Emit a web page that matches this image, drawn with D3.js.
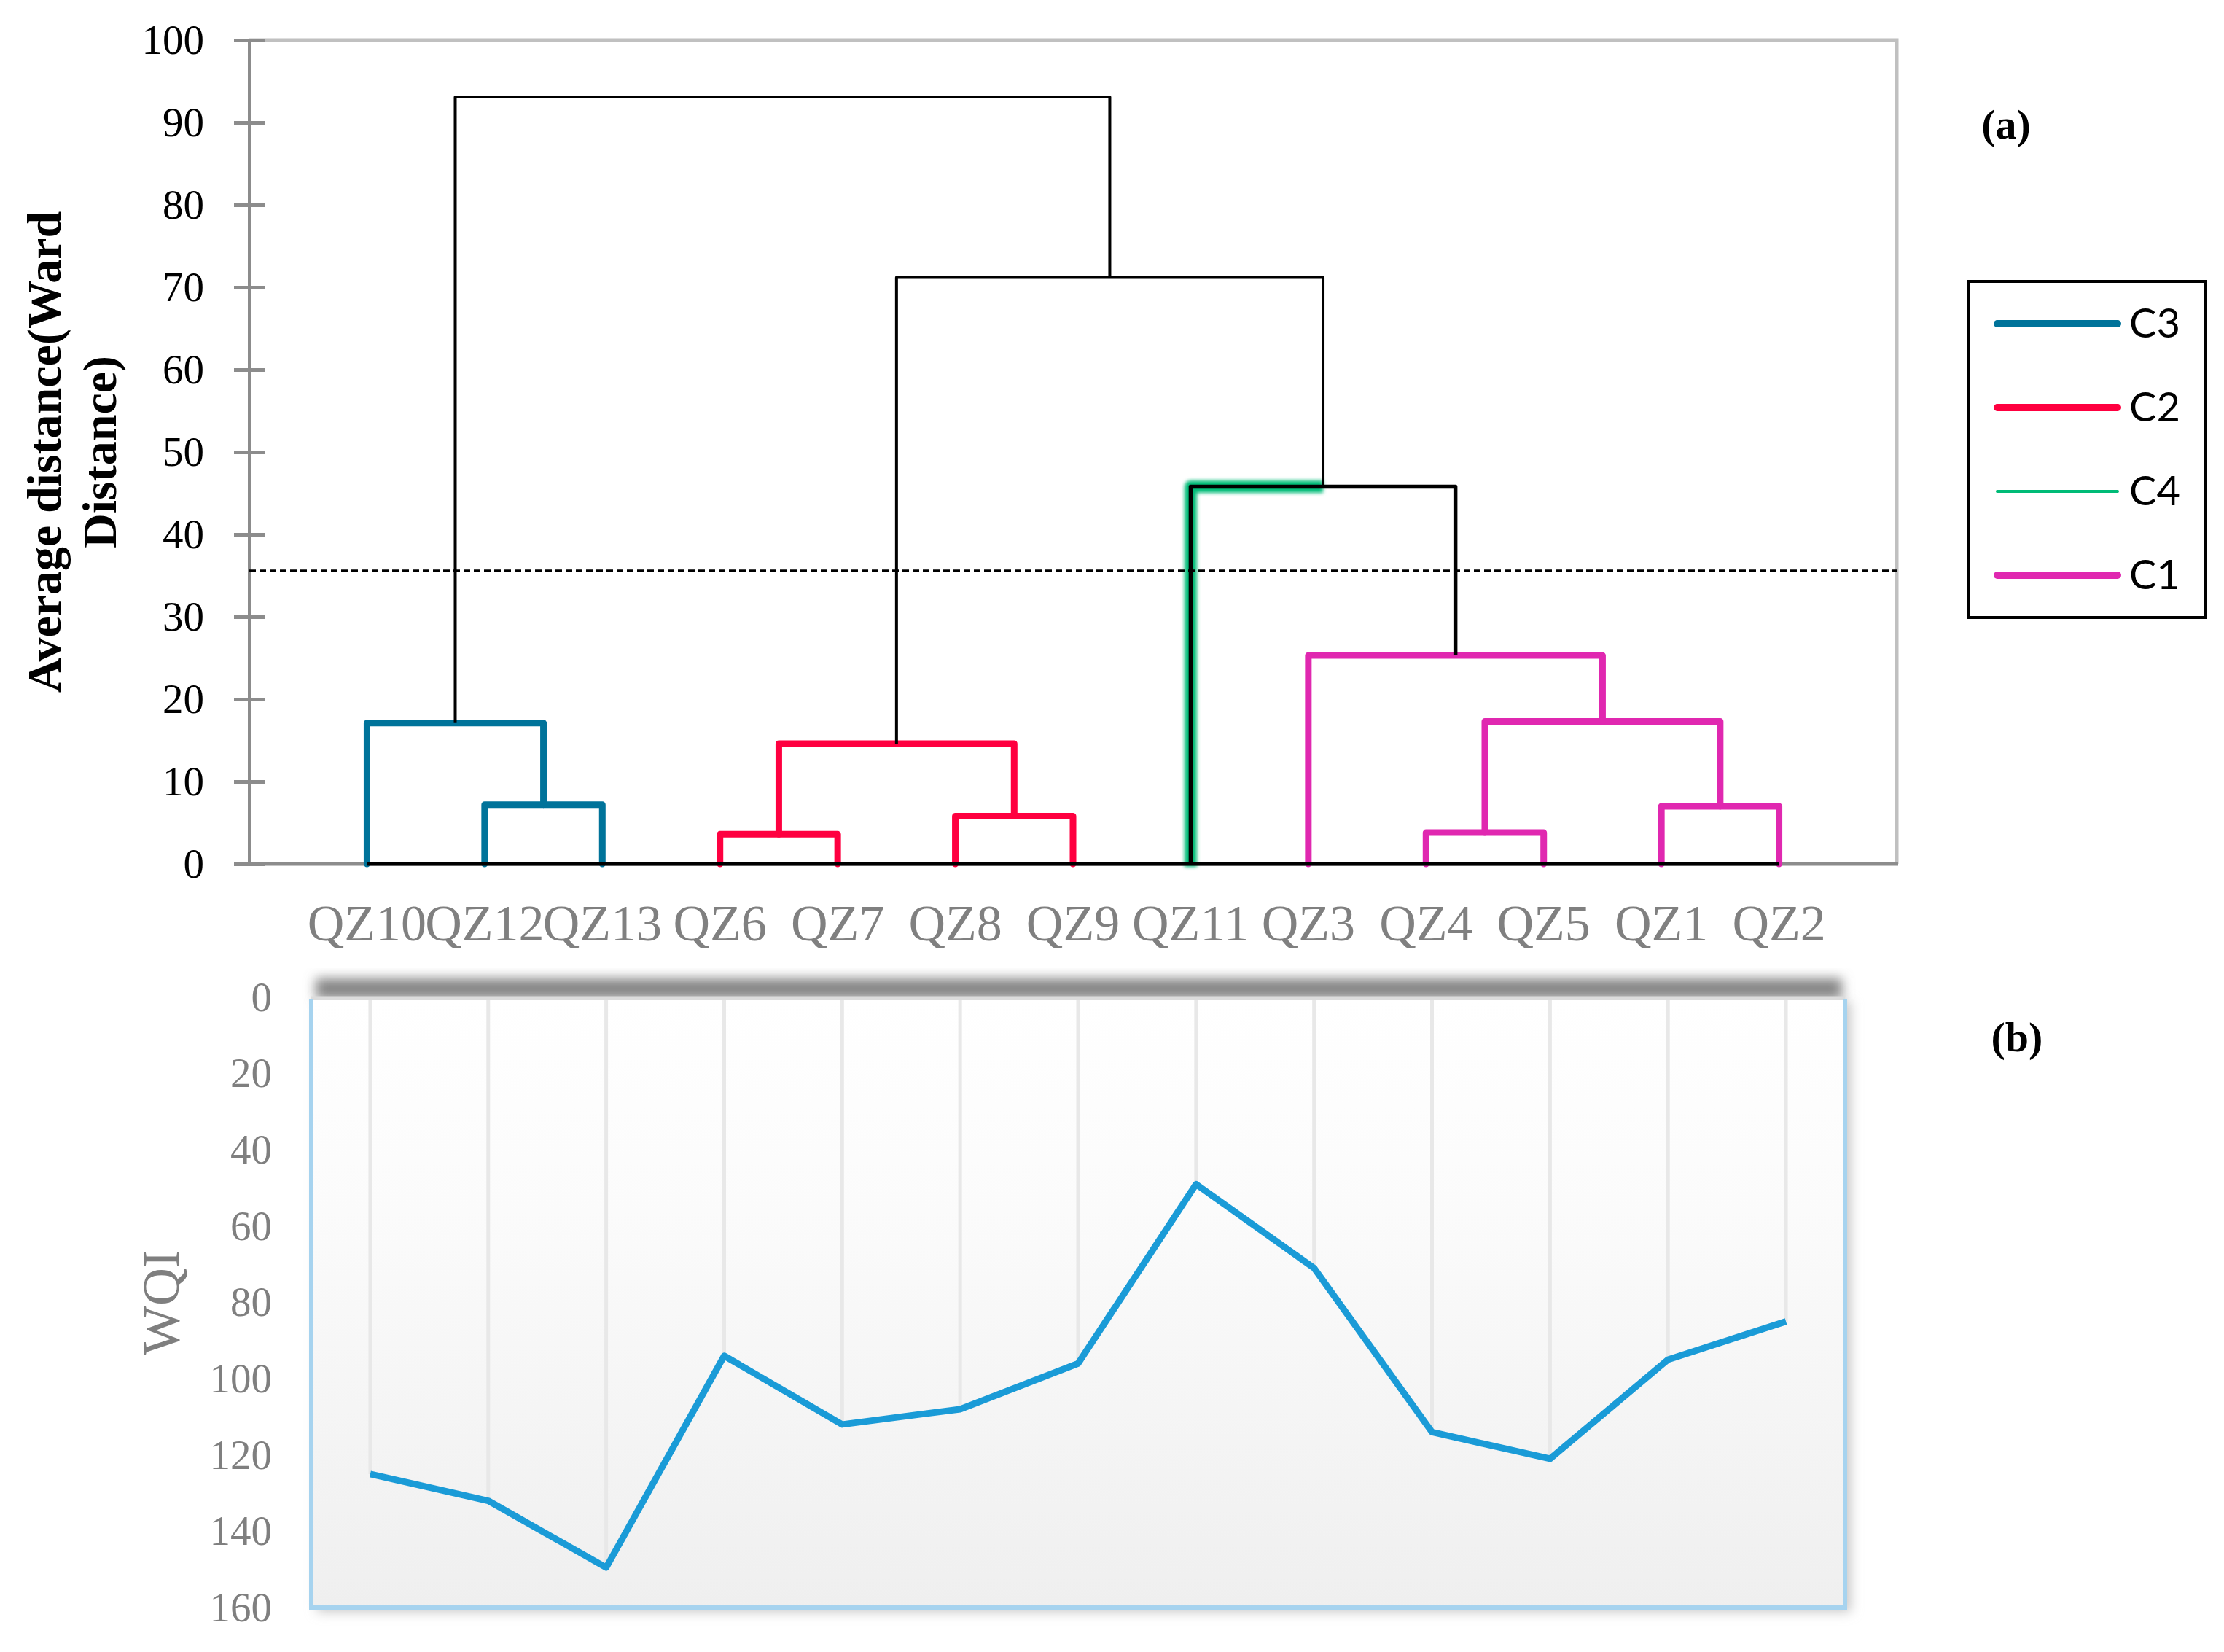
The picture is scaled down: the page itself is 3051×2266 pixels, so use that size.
<!DOCTYPE html>
<html>
<head>
<meta charset="utf-8">
<script src="https://cdn.jsdelivr.net/npm/d3@7"></script>
<style>
  body { margin: 0; background: #fff; }
  svg { display: block; }
</style>
</head>
<body>
<svg id="chart" width="3051" height="2266"></svg>
<script>
// leaves in dendrogram order
var leaves = ["QZ10","QZ12","QZ13","QZ6","QZ7","QZ8","QZ9","QZ11","QZ3","QZ4","QZ5","QZ1","QZ2"];
// WQI per site (panel b)
var wqi = [125, 132, 149.5, 94, 112, 108, 96, 49, 71, 114, 121, 95, 85];

// merges, named m0..m11
var mergeLeft   = ["QZ12","QZ10","QZ6","QZ8","m2","QZ4","QZ1","m5","QZ3","QZ11","m4","m1"];
var mergeRight  = ["QZ13","m0","QZ7","QZ9","m3","QZ5","QZ2","m6","m7","m8","m9","m10"];
var mergeHeight = [7.2, 17.1, 3.6, 5.8, 14.6, 3.8, 7.0, 17.3, 25.3, 45.8, 71.2, 93.1];
var mergeCluster = ["C3","C3","C2","C2","C2","C1","C1","C1","C1","","",""];

var clusters = ["C3","C2","C4","C1"];
var clusterColors = ["#00739a","#ff0040","#00bb77","#e028b0"];
var cutHeight = 35.6;

var distTicks = [0,10,20,30,40,50,60,70,80,90,100];
var wqiTicks = [0,20,40,60,80,100,120,140,160];

var serif = "'Liberation Serif','Times New Roman',serif";
var svg = d3.select("#chart");
var color = d3.scaleOrdinal().domain(clusters).range(clusterColors);

var defs = svg.append("defs");
defs.append("filter").attr("id","glow").attr("x","-50%").attr("y","-10%").attr("width","200%").attr("height","120%")
  .append("feGaussianBlur").attr("stdDeviation",2.5);
defs.append("filter").attr("id","shadow").attr("x","-10%").attr("y","-50%").attr("width","120%").attr("height","200%")
  .append("feGaussianBlur").attr("stdDeviation",8);
var grad = defs.append("linearGradient").attr("id","bg").attr("x1",0).attr("y1",0).attr("x2",0).attr("y2",1);
grad.append("stop").attr("offset","0").attr("stop-color","#ffffff");
grad.append("stop").attr("offset","0.35").attr("stop-color","#fbfbfb");
grad.append("stop").attr("offset","1").attr("stop-color","#efefef");

// ---------- panel (a): dendrogram ----------
var A = {left:342, right:2602, top:55, bottom:1185};
var x = d3.scalePoint().domain(leaves).range([A.left, A.right]).padding(1);
var y = d3.scaleLinear().domain([0,100]).range([A.bottom, A.top]);

var gA = svg.append("g");

// frame top + right
gA.append("path")
  .attr("d","M"+A.left+","+A.top+"H"+A.right+"V"+A.bottom)
  .attr("fill","none").attr("stroke","#c0c0c0").attr("stroke-width",5);

// x axis line
gA.append("line").attr("x1",A.left).attr("x2",A.right+2).attr("y1",A.bottom).attr("y2",A.bottom)
  .attr("stroke","#8c8c8c").attr("stroke-width",5);

var yAxis = gA.append("g").attr("transform","translate("+A.left+",0)")
  .call(d3.axisLeft(y).tickValues(distTicks).tickSize(20).tickPadding(42));
yAxis.select(".domain").attr("stroke","#8c8c8c").attr("stroke-width",5);
yAxis.selectAll(".tick line").attr("x1",-21).attr("x2",21).attr("stroke","#8c8c8c").attr("stroke-width",5);
yAxis.selectAll(".tick text").attr("font-family",serif).attr("font-size",57).attr("fill","#000");

// leaf labels
gA.append("g").selectAll("text").data(leaves).join("text")
  .attr("x",function(d){ return x(d); }).attr("y",1290)
  .attr("text-anchor","middle").attr("font-family",serif).attr("font-size",70).attr("fill","#808080")
  .text(function(d){ return d; });

// y title (two lines, bold, rotated)
var yt = gA.append("text").attr("transform","translate(60,620) rotate(-90)")
  .attr("text-anchor","middle").attr("font-family",serif).attr("font-size",66).attr("font-weight","bold");
yt.append("tspan").attr("x",0).attr("dy","0.35em").text("Average distance(Ward");
yt.append("tspan").attr("x",0).attr("dy","1.15em").text("Distance)");

gA.append("text").attr("x",2752).attr("y",190).attr("text-anchor","middle")
  .attr("font-family",serif).attr("font-size",58).attr("font-weight","bold").text("(a)");

// node positions
var nodes = {};
leaves.forEach(function(d){ nodes[d] = {x:x(d), h:0}; });
mergeHeight.forEach(function(h,i){
  var l = nodes[mergeLeft[i]], r = nodes[mergeRight[i]];
  nodes["m"+i] = {x:(l.x+r.x)/2, h:h, l:l, r:r, c:mergeCluster[i]};
});
var merges = mergeHeight.map(function(h,i){ return nodes["m"+i]; });

// C4 highlight (single leaf QZ11 joining at m9)
var m9 = nodes["m9"];
gA.append("path")
  .attr("d","M"+x("QZ11")+","+(y(0)+4)+"V"+y(m9.h)+"H"+m9.x)
  .attr("fill","none").attr("stroke",color("C4")).attr("stroke-width",17)
  .attr("stroke-linejoin","round").attr("filter","url(#glow)");

function link(m){
  return "M"+m.l.x+","+y(m.l.h)+"V"+y(m.h)+"H"+m.r.x+"V"+y(m.r.h);
}

gA.append("g").selectAll("path").data(merges).join("path")
  .attr("d",link)
  .attr("fill","none")
  .attr("stroke",function(m){ return m.c ? color(m.c) : "#000"; })
  .attr("stroke-width",function(m){ return m.c ? 9 : (m === m9 ? 5.5 : 4); })
  .attr("stroke-linecap",function(m){ return m.c ? "round" : "butt"; })
  .attr("stroke-linejoin","round");

// baseline under leaves
gA.append("line").attr("x1",x(leaves[0])).attr("x2",x(leaves[leaves.length-1]))
  .attr("y1",y(0)).attr("y2",y(0)).attr("stroke","#000").attr("stroke-width",5);

// cut line
gA.append("line").attr("x1",A.left).attr("x2",A.right).attr("y1",y(cutHeight)).attr("y2",y(cutHeight))
  .attr("stroke","#000").attr("stroke-width",3).attr("stroke-dasharray","9,5");

// legend
var lg = gA.append("g");
lg.append("rect").attr("x",2700).attr("y",386).attr("width",326).attr("height",461)
  .attr("fill","#fff").attr("stroke","#000").attr("stroke-width",4);
var ly = d3.scalePoint().domain(clusters).range([444,789]);
lg.selectAll("line").data(clusters).join("line")
  .attr("x1",2740).attr("x2",2905)
  .attr("y1",function(d){ return ly(d); }).attr("y2",function(d){ return ly(d); })
  .attr("stroke",function(d){ return color(d); })
  .attr("stroke-width",function(d){ return d === "C4" ? 4 : 10; })
  .attr("stroke-linecap","round");
lg.selectAll("text").data(clusters).join("text")
  .attr("x",2921).attr("y",function(d){ return ly(d)+19; })
  .attr("font-family","Lato, 'DejaVu Sans', sans-serif").attr("font-size",56).attr("fill","#000")
  .text(function(d){ return d; });

// ---------- panel (b): WQI line ----------
var B = {left:427, right:2531, top:1368, bottom:2205};
var xb = d3.scaleBand().domain(leaves).range([B.left, B.right]);
var yb = d3.scaleLinear().domain([0,160]).range([B.top, B.bottom]);
var cx = function(d){ return xb(d) + xb.bandwidth()/2; };

var gB = svg.append("g");

// shadows
gB.append("rect").attr("x",B.left+8).attr("y",B.top+6).attr("width",B.right-B.left).attr("height",B.bottom-B.top)
  .attr("fill","#c8c8c8").attr("filter","url(#shadow)");
gB.append("rect").attr("x",B.left+6).attr("y",B.top-26).attr("width",B.right-B.left-10).attr("height",28)
  .attr("fill","#858585").attr("filter","url(#shadow)");

gB.append("rect").attr("x",B.left).attr("y",B.top).attr("width",B.right-B.left).attr("height",B.bottom-B.top)
  .attr("fill","url(#bg)");
gB.append("line").attr("x1",B.left).attr("x2",B.right).attr("y1",B.top+1).attr("y2",B.top+1)
  .attr("stroke","#dcdcdc").attr("stroke-width",5);
gB.append("path")
  .attr("d","M"+B.left+","+(B.top+2)+"V"+B.bottom+"H"+B.right+"V"+(B.top+2))
  .attr("fill","none").attr("stroke","#a6d3ef").attr("stroke-width",6);

var yAxisB = gB.append("g").attr("transform","translate("+B.left+",0)")
  .call(d3.axisLeft(yb).tickValues(wqiTicks).tickSize(0).tickPadding(54));
yAxisB.select(".domain").remove();
yAxisB.selectAll(".tick text").attr("font-family",serif).attr("font-size",57).attr("fill","#7f7f7f");

gB.append("text").attr("transform","translate(220,1787) rotate(-90)").attr("dy","0.35em")
  .attr("text-anchor","middle").attr("font-family",serif).attr("font-size",72).attr("fill","#7f7f7f")
  .text("WQI");

// drop lines from the top to each point
gB.append("g").selectAll("line").data(leaves).join("line")
  .attr("x1",cx).attr("x2",cx)
  .attr("y1",B.top+4).attr("y2",function(d,i){ return yb(wqi[i]); })
  .attr("stroke","#e8e8e8").attr("stroke-width",5);

gB.append("path").datum(leaves)
  .attr("d",d3.line().x(cx).y(function(d,i){ return yb(wqi[i]); }))
  .attr("fill","none").attr("stroke","#1a9bd7").attr("stroke-width",9).attr("stroke-linejoin","round");

gB.append("text").attr("x",2767).attr("y",1442).attr("text-anchor","middle")
  .attr("font-family",serif).attr("font-size",58).attr("font-weight","bold").text("(b)");
</script>
</body>
</html>
